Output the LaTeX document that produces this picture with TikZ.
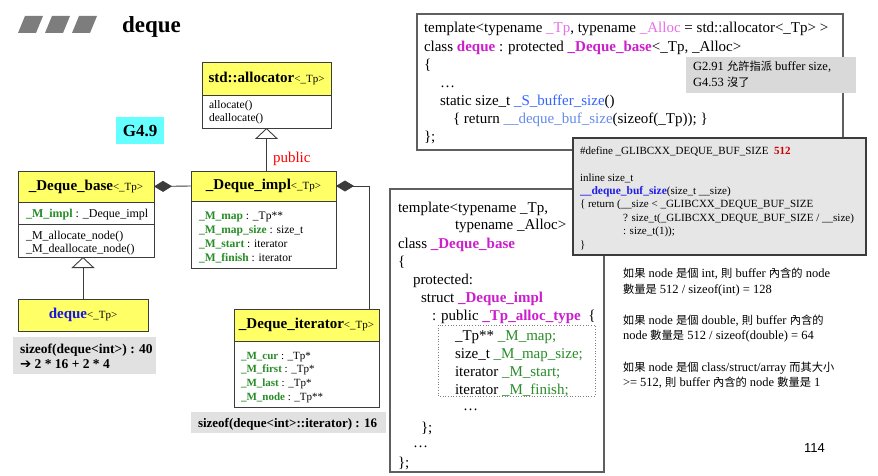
\documentclass[tikz,border=0pt]{standalone}
\usepackage{fontspec}
\setmainfont{Liberation Serif}
\newfontfamily\cjk[Scale=0.9]{Noto Sans CJK TC}
\newfontfamily\pagefont{Liberation Sans}
\newfontfamily\symfont{DejaVu Sans}
\usetikzlibrary{arrows.meta,calc}

\definecolor{umlyellow}{RGB}{255,255,102}
\definecolor{umlline}{RGB}{60,60,60}
\definecolor{fieldgreen}{RGB}{40,140,40}
\definecolor{kwmag}{RGB}{204,30,204}
\definecolor{lightmag}{RGB}{232,110,232}
\definecolor{fnblue}{RGB}{50,100,255}
\definecolor{lightblue}{RGB}{100,140,235}
\definecolor{defblue}{RGB}{30,30,230}
\definecolor{darkred}{RGB}{200,0,0}
\definecolor{notegray}{RGB}{217,217,217}
\definecolor{boxgray}{RGB}{230,230,230}
\definecolor{sizegray}{RGB}{225,225,225}
\definecolor{gcyan}{RGB}{102,255,255}
\definecolor{bargray}{RGB}{125,125,125}
\definecolor{codeline}{RGB}{95,95,95}
\definecolor{dequeblue}{RGB}{20,20,230}

\newcommand\fs[1]{\fontsize{#1}{#1}\selectfont}
\newcommand\zh[1]{{\cjk #1}}
\newcommand\tparg{{\fs{11}<\_Tp>}}
\newcommand\fld[1]{{\bfseries\color{fieldgreen}#1}}
\newcommand\kw[1]{{\bfseries\color{kwmag}#1}}

\begin{document}
\begin{tikzpicture}[x=1pt,y=-1pt,
  txt/.style={anchor=base west,inner sep=0pt,outer sep=0pt},
  umlhead/.style={draw=umlline,line width=0.9pt,fill=umlyellow,anchor=north west,
    inner sep=0pt,outer sep=0pt},
  umlbody/.style={draw=umlline,line width=0.9pt,fill=white,anchor=north west,
    inner sep=0pt,outer sep=0pt},
  sizebox/.style={fill=sizegray,anchor=north west,inner sep=0pt,outer sep=0pt},
  codebox/.style={draw=codeline,line width=1.1pt,fill=white},
  link/.style={draw=umlline,line width=0.9pt},
  inherit/.style={link,-{Triangle[open,length=11pt,width=23pt,fill=white]}},
  owns/.style={link,-{Diamond[length=18pt,width=11pt]}}
]
\useasboundingbox (0,0) rectangle (878,476);

% ---- title ----
\foreach \bx [count=\i] in {18,45,72}
  \fill[bargray] (\bx,33) -- (\bx+18,33) -- (\bx+25,16) -- (\bx+7,16) -- cycle;
\node[txt] (title) at (122,33) {\fs{23}\bfseries deque};

\node[fill=gcyan,anchor=north west,minimum width=48pt,minimum height=27pt,inner sep=0pt]
  (ver) at (116,117) {\fs{17}\bfseries G4.9};

% ---- std::allocator ----
\node[umlhead,minimum width=129pt,minimum height=33pt] (allocH) at (202,62)
  {{\fs{15}\bfseries std::allocator}\tparg};
\node[umlbody,minimum width=129pt,minimum height=33pt] (allocB) at (202,95) {};
\node[txt] (allocM1) at (209,109) {\fs{11.5}allocate()};
\node[txt] (allocM2) at (209,122) {\fs{11.5}deallocate()};

% ---- _Deque_base ----
\node[umlhead,minimum width=136pt,minimum height=31pt] (baseH) at (18,171)
  {{\fs{15}\bfseries \_Deque\_base}\tparg};
\node[umlbody,minimum width=136pt,minimum height=22pt] (baseF) at (18,202) {};
\node[umlbody,minimum width=136pt,minimum height=33pt] (baseM) at (18,224) {};
\node[txt] (baseF1) at (26,217) {\fs{12}\fld{\_M\_impl} : \_Deque\_impl};
\node[txt] (baseM1) at (26,239) {\fs{12}\_M\_allocate\_node()};
\node[txt] (baseM2) at (26,252) {\fs{12}\_M\_deallocate\_node()};

% ---- _Deque_impl ----
\node[umlhead,minimum width=145pt,minimum height=30pt] (implH) at (191,171)
  {{\fs{15}\bfseries \_Deque\_impl}\tparg};
\node[umlbody,minimum width=145pt,minimum height=67pt] (implB) at (191,201) {};
\node[txt] (implF1) at (199,219) {\fs{11.5}\fld{\_M\_map} : \_Tp**};
\node[txt] (implF2) at (199,233) {\fs{11.5}\fld{\_M\_map\_size} : size\_t};
\node[txt] (implF3) at (199,247) {\fs{11.5}\fld{\_M\_start} : iterator};
\node[txt] (implF4) at (199,261) {\fs{11.5}\fld{\_M\_finish} : iterator};

% ---- deque ----
\node[umlhead,minimum width=130pt,minimum height=32pt] (dequeH) at (18,299)
  {{\fs{15}\bfseries\color{dequeblue}deque}\tparg};
\node[sizebox,minimum width=143pt,minimum height=37pt] (dequeSz) at (13,337) {};
\node[txt] (dequeSz1) at (20,353) {\fs{13.5}\bfseries sizeof(deque<int>) : 40};
\node[txt] (dequeSz2) at (20,368) {\fs{13.5}{\symfont ➔} \bfseries 2 * 16 + 2 * 4};

% ---- _Deque_iterator ----
\node[umlhead,minimum width=145pt,minimum height=32pt] (iterH) at (234,309)
  {{\fs{15}\bfseries \_Deque\_iterator}\tparg};
\node[umlbody,minimum width=145pt,minimum height=66pt] (iterB) at (234,341) {};
\node[txt] (iterF1) at (241,359) {\fs{11}\fld{\_M\_cur} : \_Tp*};
\node[txt] (iterF2) at (241,372) {\fs{11}\fld{\_M\_first} : \_Tp*};
\node[txt] (iterF3) at (241,386) {\fs{11}\fld{\_M\_last} : \_Tp*};
\node[txt] (iterF4) at (241,400) {\fs{11}\fld{\_M\_node} : \_Tp**};
\node[sizebox,minimum width=195pt,minimum height=21pt] (iterSz) at (191,412) {};
\node[txt] (iterSz1) at (198,427) {\fs{13}\bfseries sizeof(deque<int>::iterator) : 16};

% ---- relations ----
\draw[inherit] (implH.north -| allocB.south) -- (allocB.south);
\node[txt,text=red] (pub) at (273,163) {\fs{15}public};
\draw[owns] (implH.west) -- (baseH.east);
\coordinate (iterLink) at ([xshift=-10pt]iterH.north east);
\draw[owns] (iterLink) |- (implH.east);
\draw[inherit] (dequeH.north) -- (dequeH.north |- baseM.south);

% ---- class deque declaration ----
\draw[codebox] (417,14) rectangle (843,150);
\node[txt] (d1) at (424,33) {\fs{15}template<typename {\color{lightmag}\_Tp}, typename {\color{lightmag}\_Alloc} = std::allocator<\_Tp> >};
\node[txt] (d2) at (424,52) {\fs{15}class \kw{deque} : protected \kw{\_Deque\_base}<\_Tp, \_Alloc>};
\node[txt] (d3) at (424,70) {\fs{15}\{};
\node[txt] (d4) at (440,88) {\fs{15}…};
\node[txt] (d5) at (440,106) {\fs{15}static size\_t {\color{fnblue}\_S\_buffer\_size}()};
\node[txt] (d6) at (453,124) {\fs{15}\{ return {\color{lightblue}\_\_deque\_buf\_size}(sizeof(\_Tp)); \}};
\node[txt] (d7) at (424,142) {\fs{15}\};};

\fill[notegray] (686,57) rectangle (856,93);
\node[txt] (n1) at (693,71) {\fs{12.5}G2.91 \zh{允許指派} buffer size,};
\node[txt] (n2) at (693,87) {\fs{12.5}G4.53 \zh{沒了}};

% ---- class _Deque_base declaration ----
\draw[codebox] (390,189) rectangle (604,472);
\node[txt] (b1) at (398,212) {\fs{15}template<typename \_Tp,};
\node[txt] (b2) at (455,229) {\fs{15}typename \_Alloc>};
\node[txt] (b3) at (398,248) {\fs{15}class \kw{\_Deque\_base}};
\node[txt] (b4) at (398,266) {\fs{15}\{};
\node[txt] (b5) at (413,284) {\fs{15}protected:};
\node[txt] (b6) at (421,302) {\fs{15}struct \kw{\_Deque\_impl}};
\node[txt] (b7) at (432,320) {\fs{15}: public \kw{\_Tp\_alloc\_type}\ \ \{};
\draw[draw=gray,dotted,line width=0.7pt] (438,325) rectangle (595,396);
\node[txt] (b8) at (455,340) {\fs{15}\_Tp** {\color{fieldgreen}\_M\_map;}};
\node[txt] (b9) at (455,358) {\fs{15}size\_t {\color{fieldgreen}\_M\_map\_size;}};
\node[txt] (b10) at (455,376) {\fs{15}iterator {\color{fieldgreen}\_M\_start;}};
\node[txt] (b11) at (455,394) {\fs{15}iterator {\color{fieldgreen}\_M\_finish;}};
\node[txt] (b12) at (463,410) {\fs{15}…};
\node[txt] (b13) at (421,432) {\fs{15}\};};
\node[txt] (b14) at (413,447) {\fs{15}…};
\node[txt] (b15) at (398,467) {\fs{15}\};};

% ---- buffer size helper ----
\draw[draw=umlline,line width=1.3pt,fill=boxgray] (573,138) rectangle (866,255);
\node[txt] (h1) at (580,154) {\fs{11}\#define \_GLIBCXX\_DEQUE\_BUF\_SIZE\ \ {\bfseries\color{darkred}512}};
\node[txt] (h2) at (580,181) {\fs{11}inline size\_t};
\node[txt] (h3) at (580,194) {\fs{11}{\bfseries\fs{11.5}\color{defblue}\_\_deque\_buf\_size}(size\_t \_\_size)};
\node[txt] (h4) at (580,207) {\fs{11}\{ return (\_\_size < \_GLIBCXX\_DEQUE\_BUF\_SIZE};
\node[txt] (h5) at (623,221) {\fs{11}? size\_t(\_GLIBCXX\_DEQUE\_BUF\_SIZE / \_\_size)};
\node[txt] (h6) at (623,234) {\fs{11}: size\_t(1));};
\node[txt] (h7) at (580,248) {\fs{11}\}};

% ---- notes ----
\node[txt] (r1) at (623,277) {\fs{12.5}\zh{如果} node \zh{是個} int, \zh{則} buffer \zh{內含的} node};
\node[txt] (r2) at (623,293) {\fs{12.5}\zh{數量是} 512 / sizeof(int) = 128};
\node[txt] (r3) at (623,324) {\fs{12.5}\zh{如果} node \zh{是個} double, \zh{則} buffer \zh{內含的}};
\node[txt] (r4) at (623,339) {\fs{12.5}node \zh{數量是} 512 / sizeof(double) = 64};
\node[txt] (r5) at (623,371) {\fs{12.5}\zh{如果} node \zh{是個} class/struct/array \zh{而其大小}};
\node[txt] (r6) at (623,386) {\fs{12.5}>= 512, \zh{則} buffer \zh{內含的} node \zh{數量是} 1};
\node[txt] (pg) at (804,452) {\pagefont\fs{13}114};
\end{tikzpicture}
\end{document}
